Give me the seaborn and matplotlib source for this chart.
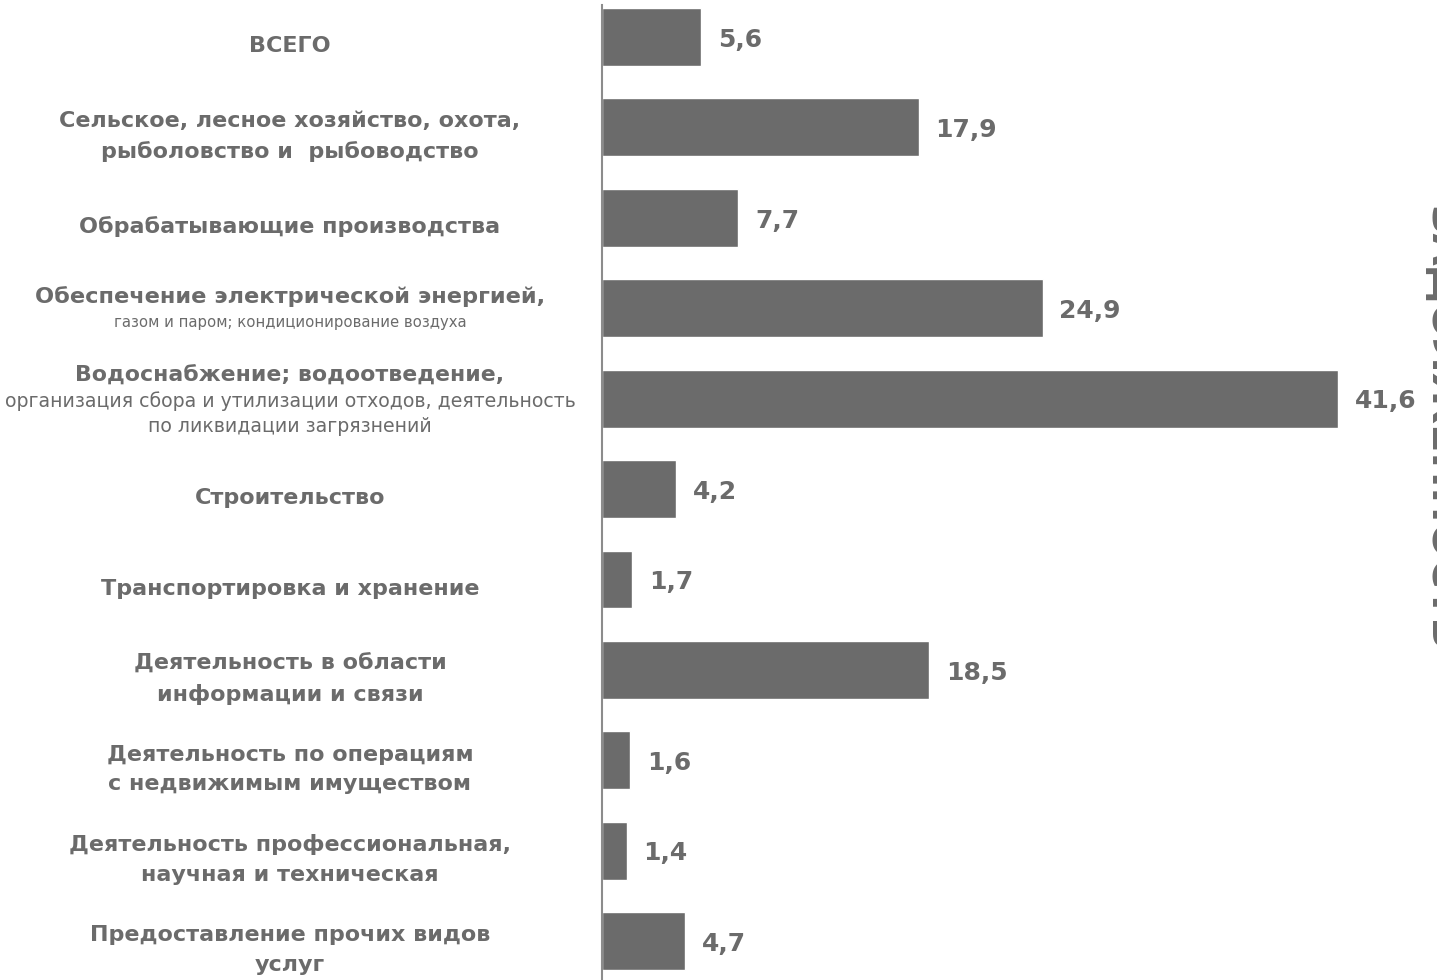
import pandas as pd
import matplotlib
matplotlib.use("Agg")
import matplotlib.pyplot as plt
import matplotlib.transforms as mtransforms
import seaborn as sns

# отрасли: жирная часть подписи и обычная (если есть)
label_bold = [
    "ВСЕГО",
    "Сельское, лесное хозяйство, охота,\nрыболовство и  рыбоводство",
    "Обрабатывающие производства",
    "Обеспечение электрической энергией,",
    "Водоснабжение; водоотведение,",
    "Строительство",
    "Транспортировка и хранение",
    "Деятельность в области\nинформации и связи",
    "Деятельность по операциям\nс недвижимым имуществом",
    "Деятельность профессиональная,\nнаучная и техническая",
    "Предоставление прочих видов\nуслуг",
]
label_rest = [
    "",
    "",
    "",
    "газом и паром; кондиционирование воздуха",
    "организация сбора и утилизации отходов, деятельность\nпо ликвидации загрязнений",
    "",
    "",
    "",
    "",
    "",
    "",
]
values = [5.6, 17.9, 7.7, 24.9, 41.6, 4.2, 1.7, 18.5, 1.6, 1.4, 4.7]
side_title = "ЗАДОЛЖЕННОСТЬ"

bar_color = "#6b6b6b"
text_color = "#6b6b6b"

df = pd.DataFrame({"category": label_bold, "value": values})

sns.set_style("white")
plt.rcParams["font.family"] = ["DejaVu Sans"]

W, H = 1437, 980
fig = plt.figure(figsize=(W / 100, H / 100), dpi=100)
ax = fig.add_axes([602 / W, 0, (W - 602) / W, 975 / H])

sns.barplot(data=df, x="value", y="category", orient="h", color=bar_color,
            width=0.64, saturation=1, ax=ax)

ax.set_xlim(0, (W - 602) / 17.7)
ax.set_ylim(10.43, -0.354)
ax.set_xlabel("")
ax.set_ylabel("")
ax.set_xticks([])
ax.set_yticks([])
for s in ["top", "right", "bottom"]:
    ax.spines[s].set_visible(False)
ax.spines["left"].set_color("#8c8c8c")
ax.spines["left"].set_linewidth(1.5)

# подписи значений
for i, v in enumerate(values):
    ax.annotate(f"{v:.1f}".replace(".", ","), (v, i), xytext=(12, -2),
                textcoords="offset points", ha="left", va="center",
                fontsize=18, fontweight="bold", color=text_color)

# подписи категорий слева
trans = mtransforms.blended_transform_factory(fig.transFigure, ax.transData)
lx = 290 / W


def put(txt, i, dy, **kw):
    ax.annotate(txt, (lx, i), xycoords=trans, xytext=(0, dy),
                textcoords="offset points", ha="center", va="center",
                color=text_color, annotation_clip=False, **kw)


for i, (b, r) in enumerate(zip(label_bold, label_rest)):
    if not r:
        put(b, i, -6.5, fontsize=16, fontweight="bold", linespacing=1.6)
    elif "\n" not in r:
        put(b, i, 8.5, fontsize=16.2, fontweight="bold")
        put(r, i, -10.5, fontsize=10.7)
    else:
        put(b, i, 16.5, fontsize=15.8, fontweight="bold")
        put(r, i, -11, fontsize=13.6, linespacing=1.4)

# заголовок справа (обрезан краем)
fig.text(1420 / W, 1 - 428 / H, side_title, rotation=-90, ha="left",
         va="center", fontsize=30, fontweight="bold", color=text_color)

fig.savefig("out.png", dpi=100)
